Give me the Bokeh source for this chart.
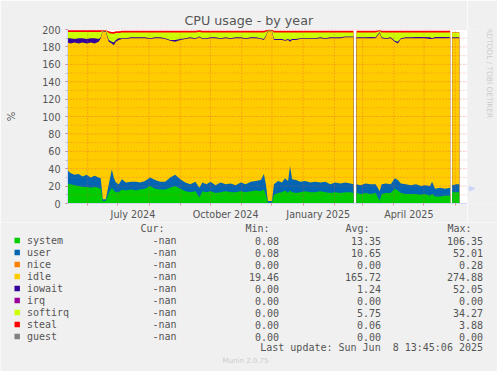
import math
from datetime import date
from bokeh.plotting import figure
from bokeh.layouts import column, row
from bokeh.models import Range1d, FixedTicker
from bokeh.core.properties import value
from bokeh.embed import file_html
from bokeh.resources import INLINE

nan = float("nan")
start = date(2024, 5, 12)

# days since start (nan marks a gap with no data)
day = [0, 3, 7, 11, 15, 19, 23, 27, 31, 33,
       35, 38, 41, 44, 46, 48, 51, 54, 58, 63,
       68, 72, 77, 82, 87, 92, 97, 102, 107, 112,
       117, 122, 127, 131, 134, 138, 142, 147, 152, 157,
       162, 167, 172, 177, 182, 187, 192, 195, 197, 199,
       203, 205, 209, 213, 216, 219, 221, 223, 227, 231,
       236, 241, 246, 251, 256, 261, 266, 271, 276, 281,
       284, nan,
       287, 291, 296, 301, 306, 310, 312, 316, 321, 325,
       328, 331, 336, 341, 346, 351, 355, 360, 362, 365,
       370, 375, 380, nan,
       382, 386, 389]

system = [23, 22, 21, 20, 19, 19, 18, 19, 18, 17,
          3, 3, 12, 18, 15, 13, 13, 16, 15, 16,
          15, 16, 17, 20, 17, 16, 16, 18, 20, 17,
          14, 13, 14, 7, 14, 13, 14, 12, 13, 14,
          13, 13, 14, 13, 14, 15, 14, 16, 10, 1,
          1, 10, 12, 13, 15, 12, 15, 13, 12, 13,
          14, 13, 13, 14, 13, 12, 13, 12, 13, 13,
          12, nan,
          12, 11, 12, 11, 12, 3, 11, 12, 12, 17,
          15, 12, 11, 11, 11, 10, 11, 9, 11, 8,
          8, 9, 9, nan,
          13, 13, 13]

user = [15, 13, 12, 14, 12, 14, 12, 13, 12, 12,
        2, 2, 10, 21, 15, 11, 9, 12, 9, 9,
        10, 8, 9, 10, 10, 9, 9, 12, 13, 11,
        10, 9, 11, 11, 10, 9, 11, 9, 11, 8,
        10, 8, 10, 9, 11, 11, 13, 18, 12, 2,
        2, 12, 14, 11, 14, 14, 28, 15, 15, 12,
        12, 11, 12, 10, 12, 10, 11, 11, 11, 10,
        10, nan,
        10, 10, 11, 11, 10, 11, 11, 11, 10, 12,
        12, 11, 11, 10, 11, 10, 10, 11, 14, 9,
        10, 8, 9, nan,
        8, 9, 9]

idle = [147, 149, 152, 150, 154, 151, 155, 152, 156, 161,
        193, 192, 164, 145, 152, 162, 166, 161, 165, 165,
        165, 166, 164, 159, 163, 165, 164, 157, 153, 160,
        165, 168, 164, 173, 165, 167, 165, 169, 165, 168,
        166, 169, 166, 167, 165, 164, 162, 154, 170, 195,
        195, 166, 162, 164, 158, 162, 143, 160, 161, 164,
        163, 165, 164, 166, 164, 168, 166, 167, 167, 168,
        169, nan,
        168, 169, 167, 168, 168, 182, 168, 166, 168, 157,
        157, 166, 168, 169, 168, 170, 169, 169, 164, 173,
        172, 173, 172, nan,
        169, 168, 168]

iowait = [5, 6, 4, 6, 5, 5, 5, 6, 3, 1,
          0.5, 1, 2, 2, 3, 2, 2, 1, 1, 1,
          1, 1, 1, 1, 1, 1, 1, 1, 2, 1,
          1, 1, 1, 1, 1, 1, 1, 1, 1, 1,
          1, 1, 1, 1, 1, 1, 1, 1, 1, 0.5,
          0.5, 1, 1, 1, 1, 1, 2, 1, 1, 1,
          1, 1, 1, 1, 1, 1, 1, 1, 1, 1,
          1, nan,
          1, 1, 1, 1.5, 1, 1, 1, 1, 1, 1,
          2, 1, 1, 1, 1.5, 1.5, 1.5, 2, 1, 1.5,
          1.5, 1.5, 1, nan,
          1, 1, 1]

softirq = [7, 7, 8, 7, 7, 8, 7, 7, 8, 6,
           0.2, 0.5, 8, 9, 10, 8, 6, 6.5, 6.5, 5.5,
           5.5, 5.5, 5.5, 6.5, 5.5, 5.5, 6.5, 8.5, 8.5, 7.5,
           6.5, 5.5, 6.5, 5, 6.5, 6.5, 5.5, 5.5, 6.5, 5.5,
           6.5, 5.5, 5.5, 6.5, 5.5, 5.5, 6.5, 7.5, 4, 0.3,
           0.3, 7.5, 7.5, 7.5, 8.5, 7.5, 8.5, 7.5, 7.5, 6.5,
           6.5, 6.5, 6.5, 5.5, 6.5, 5.5, 5.5, 5.5, 4.5, 4.5,
           4.5, nan,
           5.5, 5.5, 5.5, 5, 5.5, 1, 5.5, 6.5, 5.5, 9.5,
           10.5, 6.5, 5.5, 5.5, 5, 5, 5, 5.5, 6.5, 5,
           5, 5, 5.5, nan,
           5.5, 5.5, 5.5]

steal = [2, 2, 2, 2, 2, 2, 2, 2, 2, 2,
         0.4, 0.6, 2, 2, 2, 2, 2, 2, 2, 2,
         2, 2, 2, 2, 2, 2, 2, 2, 2, 2,
         2, 2, 2, 2, 2, 2, 2, 2, 2, 2,
         2, 2, 2, 2, 2, 2, 2, 2, 2, 1,
         1, 2, 2, 2, 2, 2, 2, 2, 2, 2,
         2, 2, 2, 2, 2, 2, 2, 2, 2, 2,
         2, nan,
         2, 2, 2, 2, 2, 1, 2, 2, 2, 2,
         2, 2, 2, 2, 2, 2, 2, 2, 2, 2,
         2, 2, 2, nan,
         0.3, 0.3, 0.3]

legend_names = ["system", "user", "nice", "idle", "iowait", "irq", "softirq", "steal", "guest"]
legend_colors = ["#00CC00", "#0066B3", "#FF8000", "#FFCC00", "#330099", "#990099", "#CCFF00", "#FF0000", "#808080"]
cur_vals = ["-nan"] * 9
min_vals = ["0.08", "0.08", "0.00", "19.46", "0.00", "0.00", "0.00", "0.00", "0.00"]
avg_vals = ["13.35", "10.65", "0.00", "165.72", "1.24", "0.00", "5.75", "0.06", "0.00"]
max_vals = ["106.35", "52.01", "0.28", "274.88", "52.05", "0.00", "34.27", "3.88", "0.00"]

y_ticks = list(range(0, 201, 20))
y_minor = list(range(0, 201, 10))
x_label_months = [(2024, 7, "July 2024"), (2024, 10, "October 2024"),
                  (2025, 1, "January 2025"), (2025, 4, "April 2025")]

FONT = "#555555"
AXIS = "#CFD6F8"
BG = "#F0F0F0"
GRID = "#DE4F4F"
X_END = 397.2

# ================= chart =================
p = figure(width=467, height=222, x_range=Range1d(0, X_END), y_range=Range1d(0, 200),
           output_backend="svg", toolbar_location=None,
           min_border_left=67, min_border_right=0, min_border_top=29, min_border_bottom=19)
p.background_fill_color = "#FFFFFF"
p.border_fill_color = BG
p.outline_line_color = None
p.grid.visible = False

p.title.text = "CPU usage - by year"
p.title.align = "left"
p.title.offset = 117
p.title.vertical_align = "bottom"
p.title.standoff = 4
p.title.text_font = "DejaVu Sans"
p.title.text_font_size = "12.7px"
p.title.text_font_style = "normal"
p.title.text_color = FONT

# stacked areas, split at gaps
stack = [(system, "#00CC00"), (user, "#0066B3"), (idle, "#FFCC00"),
         (iowait, "#330099"), (softirq, "#CCFF00"), (steal, "#FF0000")]
segs, cur = [], []
for i, d in enumerate(day):
    if math.isnan(d):
        if cur:
            segs.append(cur)
        cur = []
    else:
        cur.append(i)
if cur:
    segs.append(cur)

for idx in segs:
    xs = [day[i] for i in idx]
    acc = [0.0] * len(idx)
    tops = []
    for vals, col in stack:
        acc = [a + vals[i] for a, i in zip(acc, idx)]
        tops.append((list(acc), col))
    for top, col in reversed(tops):
        p.varea(x=xs, y1=[0] * len(xs), y2=top, fill_color=col)

def d_of(y, m, dd=1):
    return (date(y, m, dd) - start).days

month_starts = []
yy, mm = 2024, 6
while True:
    d = d_of(yy, mm)
    if d > X_END:
        break
    month_starts.append(d)
    mm += 1
    if mm > 12:
        mm, yy = 1, yy + 1

# dotted grid drawn on top of the areas
p.segment(x0=month_starts, y0=[0] * len(month_starts), x1=month_starts, y1=[200] * len(month_starts),
          line_color=GRID, line_alpha=0.55, line_dash="1 2", line_width=1)
hmaj = [v for v in y_minor if v > 0 and v % 20 == 0]
hmin = [v for v in y_minor if v > 0 and v % 20 != 0]
p.segment(x0=[0] * len(hmin), y0=hmin, x1=[X_END] * len(hmin), y1=hmin,
          line_color=GRID, line_alpha=0.45, line_dash="1 2", line_width=1)
p.segment(x0=[0] * len(hmaj), y0=hmaj, x1=[X_END] * len(hmaj), y1=hmaj,
          line_color=GRID, line_alpha=0.6, line_dash="1 2", line_width=1)

label_pos = [d_of(y, m) + 15 for y, m, _ in x_label_months]
p.xaxis.ticker = FixedTicker(ticks=label_pos, minor_ticks=month_starts)
p.xaxis.major_label_overrides = {lp: t for lp, (_, _, t) in zip(label_pos, x_label_months)}
p.xaxis.major_tick_line_color = None
p.xaxis.major_tick_out = 0
p.xaxis.major_tick_in = 0
p.xaxis.minor_tick_line_color = GRID
p.xaxis.minor_tick_line_alpha = 0.6
p.xaxis.minor_tick_out = 2
p.xaxis.minor_tick_in = 0
p.xaxis.axis_line_color = AXIS
p.xaxis.major_label_standoff = 3
p.xaxis.major_label_text_font = "DejaVu Sans"
p.xaxis.major_label_text_font_size = "9.6px"
p.xaxis.major_label_text_color = FONT

p.yaxis.ticker = FixedTicker(ticks=y_ticks, minor_ticks=y_minor)
p.yaxis.major_tick_line_color = GRID
p.yaxis.major_tick_line_alpha = 0.6
p.yaxis.major_tick_out = 2
p.yaxis.major_tick_in = 0
p.yaxis.minor_tick_line_color = "#8F8F8F"
p.yaxis.minor_tick_line_alpha = 0.5
p.yaxis.minor_tick_out = 2
p.yaxis.minor_tick_in = 0
p.yaxis.axis_line_color = AXIS
p.yaxis.major_label_standoff = 5
p.yaxis.major_label_text_font = "DejaVu Sans"
p.yaxis.major_label_text_font_size = "9.6px"
p.yaxis.major_label_text_color = FONT
p.yaxis.axis_label = "%"
p.yaxis.axis_label_text_font = "DejaVu Sans"
p.yaxis.axis_label_text_font_size = "10px"
p.yaxis.axis_label_text_font_style = "normal"
p.yaxis.axis_label_text_color = FONT
p.yaxis.axis_label_standoff = 22

# ================= side / bottom panels (pixel-unit figures) =================
def blank(w, h, flip):
    yr = Range1d(h, 0) if flip else Range1d(0, h)
    f = figure(width=w, height=h, x_range=Range1d(0, w), y_range=yr,
               x_axis_type=None, y_axis_type=None, output_backend="svg", toolbar_location=None,
               min_border=0)
    f.background_fill_color = BG
    f.border_fill_color = BG
    f.outline_line_color = None
    return f

# right strip (y measured upward from its bottom, 222 px tall)
strip = blank(30, 222, False)
strip.text(x=[22], y=[222 - 52.5], text=["RRDTOOL / TOBI OETIKER"], angle=-math.pi / 2,
           text_font=value("DejaVu Sans"), text_font_size="7.4px", text_color="#CCCCCC",
           text_align="center", text_baseline="middle")
# continuation of the x axis with its arrow head
strip.line(x=[0, 4], y=[19, 19], line_color=AXIS, line_width=1)
strip.patch(x=[2, 7.5, 2], y=[22, 19, 16], fill_color=AXIS, line_color=AXIS)

# legend block
leg = blank(497, 149, True)
OY = 222
MONO = value("DejaVu Sans Mono")
row_y = [240 + 12 * k - OY for k in range(len(legend_names))]
hdr_y = 228.3 - OY

leg.text(x=[140, 245, 345, 447], y=[hdr_y] * 4, text=["Cur:", "Min:", "Avg:", "Max:"],
         text_font=MONO, text_font_size="10px", text_color=FONT,
         text_align="left", text_baseline="middle")
leg.rect(x=[16.7] * 9, y=row_y, width=5.4, height=5.4, fill_color=legend_colors, line_color=None)
leg.text(x=[26.5] * 9, y=row_y, text=legend_names, text_font=MONO, text_font_size="10px",
         text_color=FONT, text_align="left", text_baseline="middle")
for xr, vals in [(176, cur_vals), (278.5, min_vals), (380.5, avg_vals), (482.5, max_vals)]:
    leg.text(x=[xr] * 9, y=row_y, text=vals, text_font=MONO, text_font_size="10px",
             text_color=FONT, text_align="right", text_baseline="middle")
leg.text(x=[482.5], y=[347.3 - OY], text=["Last update: Sun Jun \u00a08 13:45:06 2025"],
         text_font=MONO, text_font_size="10px", text_color=FONT,
         text_align="right", text_baseline="middle")
leg.text(x=[245], y=[360 - OY], text=["Munin 2.0.75"], text_font=value("DejaVu Sans"),
         text_font_size="7px", text_color="#CCCCCC", text_align="center", text_baseline="middle")

layout = column(row(p, strip, spacing=0), leg, spacing=0)
open("out.html", "w").write(file_html(layout, INLINE))
